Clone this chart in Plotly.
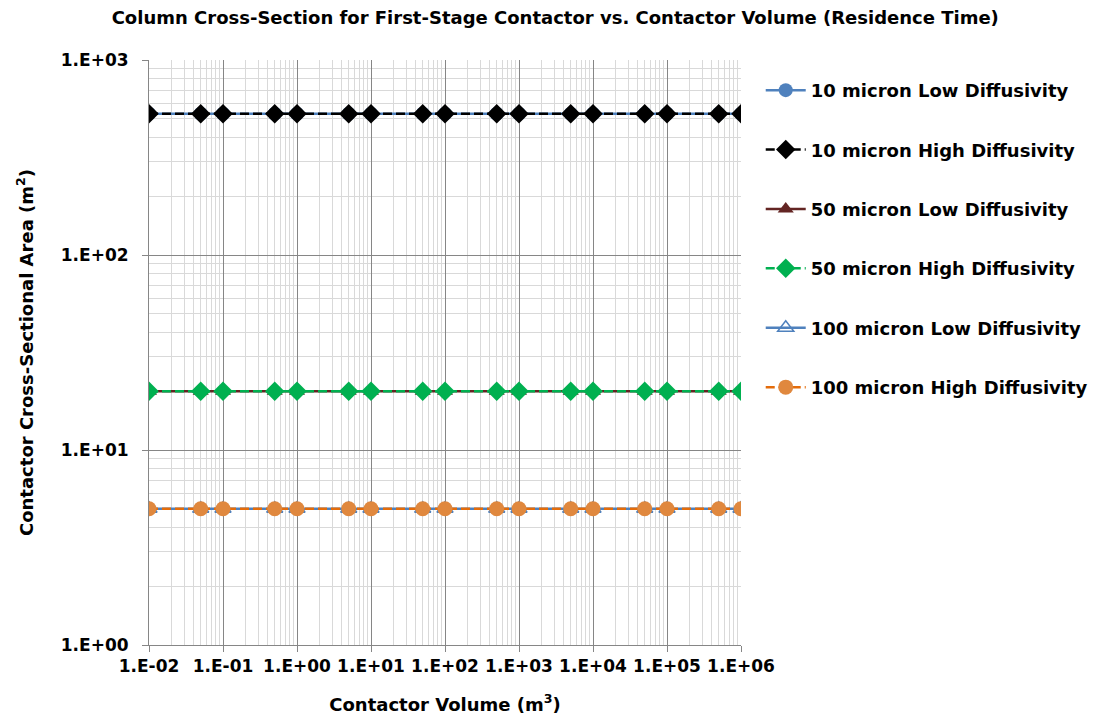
import plotly.graph_objects as go

volumes = [0.01, 0.05, 0.1, 0.5, 1, 5, 10, 50, 100, 500, 1000, 5000, 1e4, 5e4, 1e5, 5e5, 1e6]
area_10_low = [530] * len(volumes)
area_10_high = [530] * len(volumes)
area_50_low = [20] * len(volumes)
area_50_high = [20] * len(volumes)
area_100_low = [5] * len(volumes)
area_100_high = [5] * len(volumes)

series_names = [
    "10 micron Low Diffusivity",
    "10 micron High Diffusivity",
    "50 micron Low Diffusivity",
    "50 micron High Diffusivity",
    "100 micron Low Diffusivity",
    "100 micron High Diffusivity",
]

x_tickvals = [1e-2, 1e-1, 1e0, 1e1, 1e2, 1e3, 1e4, 1e5, 1e6]
x_ticktext = ["1.E-02", "1.E-01", "1.E+00", "1.E+01", "1.E+02", "1.E+03", "1.E+04", "1.E+05", "1.E+06"]
y_tickvals = [1, 10, 100, 1000]
y_ticktext = ["1.E+00", "1.E+01", "1.E+02", "1.E+03"]

FONT = "DejaVu Sans"

styles = [
    dict(line=dict(color="#4F81BD", width=2.5), marker=dict(symbol="circle", size=14, color="#4F81BD")),
    dict(line=dict(color="#000000", width=2.5, dash="9px,4px"), marker=dict(symbol="diamond", size=15, color="#000000")),
    dict(line=dict(color="#632523", width=2.5), marker=dict(symbol="triangle-up", size=14, color="#632523")),
    dict(line=dict(color="#00B050", width=2.5, dash="9px,4px"), marker=dict(symbol="diamond", size=15, color="#00B050")),
    dict(line=dict(color="#4F81BD", width=2.5), marker=dict(symbol="triangle-up-open", size=14, color="#4F81BD", line=dict(width=1.5))),
    dict(line=dict(color="#E46C0A", width=2.5, dash="9px,4px"), marker=dict(symbol="circle", size=15, color="#E0883E")),
]
data = [area_10_low, area_10_high, area_50_low, area_50_high, area_100_low, area_100_high]

fig = go.Figure()
for i, (name, ys, st) in enumerate(zip(series_names, data, styles)):
    fig.add_trace(go.Scatter(x=volumes, y=ys, name=f"<b>{name}</b>", mode="lines+markers",
                             legendgroup=f"g{i}", **st))

minor_x = [m * 10**k for k in range(-2, 6) for m in range(2, 10)]
minor_y = [m * 10**k for k in range(0, 3) for m in range(2, 10)]

fig.update_layout(
    width=1093, height=727,
    margin=dict(l=149, r=352, t=60, b=82),
    paper_bgcolor="white", plot_bgcolor="white",
    font=dict(family=FONT, color="#000000"),
    title=dict(text="<b>Column Cross-Section for First-Stage Contactor vs. Contactor Volume (Residence Time)</b>",
               x=0.508, xanchor="center", y=0.975, yanchor="middle", font=dict(size=18, family=FONT)),
    legend=dict(xref="container", yref="container", x=0.696, y=0.901, xanchor="left", yanchor="top",
                font=dict(size=18, family=FONT), tracegroupgap=33, traceorder="grouped",
                bgcolor="rgba(0,0,0,0)", itemwidth=40),
    showlegend=True,
)
fig.update_xaxes(
    type="log", range=[-2, 6],
    tickvals=x_tickvals, ticktext=[f"<b>{t}</b>" for t in x_ticktext],
    tickfont=dict(size=17, family=FONT),
    showgrid=True, gridcolor="#868686", gridwidth=1,
    minor=dict(tickvals=minor_x, showgrid=True, gridcolor="#D9D9D9", gridwidth=1, ticks=""),
    showline=True, linecolor="#868686", linewidth=1,
    ticks="outside", ticklen=6, tickcolor="#868686",
    title=dict(text="<b>Contactor Volume (m<sup>3</sup>)</b>", font=dict(size=18, family=FONT), standoff=22),
    zeroline=False, automargin=False,
)
fig.update_yaxes(
    type="log", range=[0, 3],
    tickvals=y_tickvals, ticktext=[f"<b>{t}</b>" for t in y_ticktext],
    tickfont=dict(size=17, family=FONT),
    showgrid=True, gridcolor="#868686", gridwidth=1,
    minor=dict(tickvals=minor_y, showgrid=True, gridcolor="#D9D9D9", gridwidth=1, ticks=""),
    showline=True, linecolor="#868686", linewidth=1,
    ticks="outside", ticklen=6, tickcolor="#868686",
    ticklabelstandoff=10,
    title=dict(text="<b>Contactor Cross-Sectional Area (m<sup>2</sup>)</b>", font=dict(size=18, family=FONT), standoff=22),
    zeroline=False, automargin=False,
)

fig.write_html("out.html")
